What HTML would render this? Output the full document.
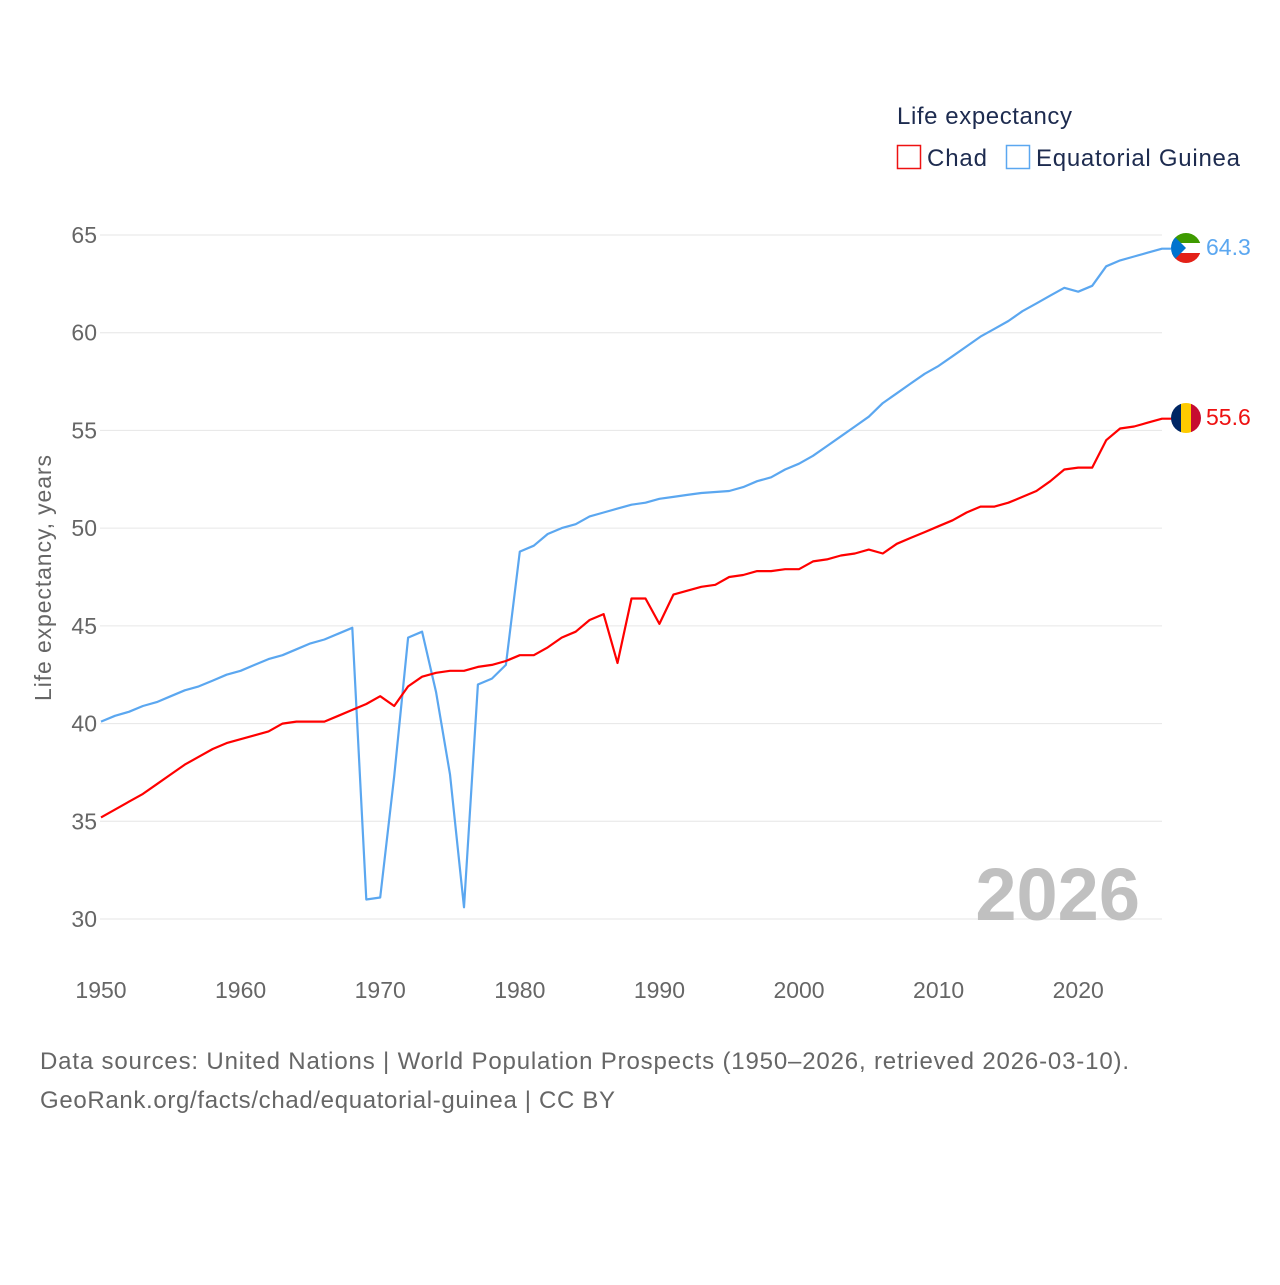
<!DOCTYPE html>
<html><head><meta charset="utf-8"><style>
body{margin:0;background:#fff;font-family:"Liberation Sans",sans-serif;}
svg text{font-family:"Liberation Sans",sans-serif;}
</style></head><body>
<svg id="chart" width="1280" height="1280" viewBox="0 0 1280 1280">
<defs>
<clipPath id="c1"><circle cx="1186" cy="248" r="15"/></clipPath>
<clipPath id="c2"><circle cx="1186" cy="418" r="15"/></clipPath>
</defs>
<g id="grid"></g>
<g id="yt"></g>
<g id="xt"></g>
<text x="51" y="578" font-size="23" fill="#666" text-anchor="middle" textLength="246" transform="rotate(-90 51 578)">Life expectancy, years</text>
<text x="1140" y="920" font-size="74" font-weight="bold" fill="#c0c0c0" text-anchor="end">2026</text>
<g id="lines"></g>
<g clip-path="url(#c1)">
<rect x="1171" y="233" width="30" height="10" fill="#3e9a00"/>
<rect x="1171" y="243" width="30" height="10" fill="#fff"/>
<rect x="1171" y="253" width="30" height="10" fill="#e32118"/>
<polygon points="1171,233 1186,248 1171,263" fill="#0073ce"/>
</g>
<g clip-path="url(#c2)">
<rect x="1171" y="403" width="10" height="30" fill="#002664"/>
<rect x="1181" y="403" width="10" height="30" fill="#fecb00"/>
<rect x="1191" y="403" width="10" height="30" fill="#c60c30"/>
</g>
<text x="1206" y="255" font-size="23" fill="#5ba7f0">64.3</text>
<text x="1206" y="425" font-size="23" fill="#ee1111">55.6</text>
<g>
<text x="897" y="124" font-size="24" fill="#1d2b4f" textLength="175">Life expectancy</text>
<g>
<rect x="897.5" y="145.5" width="23" height="23" fill="none" stroke="#ee1111" stroke-width="1.5"/>
<text x="927" y="166" font-size="24" fill="#1d2b4f" textLength="60">Chad</text></g>
<g>
<rect x="1006.5" y="145.5" width="23" height="23" fill="none" stroke="#5ba7f0" stroke-width="1.5"/>
<text x="1036" y="166" font-size="24" fill="#1d2b4f" textLength="204">Equatorial Guinea</text></g>
</g>
<text x="40" y="1069" font-size="24" fill="#666" textLength="1089">Data sources: United Nations | World Population Prospects (1950–2026, retrieved 2026-03-10).</text>
<text x="40" y="1108" font-size="24" fill="#666" textLength="575">GeoRank.org/facts/chad/equatorial-guinea | CC BY</text>
</svg>
<script>
const startYear = 1950;
const chad = [35.2,35.6,36.0,36.4,36.9,37.4,37.9,38.3,38.7,39.0,39.2,39.4,39.6,40.0,40.1,40.1,40.1,40.4,40.7,41.0,41.4,40.9,41.9,42.4,42.6,42.7,42.7,42.9,43.0,43.2,43.5,43.5,43.9,44.4,44.7,45.3,45.6,43.1,46.4,46.4,45.1,46.6,46.8,47.0,47.1,47.5,47.6,47.8,47.8,47.9,47.9,48.3,48.4,48.6,48.7,48.9,48.7,49.2,49.5,49.8,50.1,50.4,50.8,51.1,51.1,51.3,51.6,51.9,52.4,53.0,53.1,53.1,54.5,55.1,55.2,55.4,55.6];
const eqGuinea = [40.1,40.4,40.6,40.9,41.1,41.4,41.7,41.9,42.2,42.5,42.7,43.0,43.3,43.5,43.8,44.1,44.3,44.6,44.9,31.0,31.1,37.3,44.4,44.7,41.6,37.4,30.6,42.0,42.3,43.0,48.8,49.1,49.7,50.0,50.2,50.6,50.8,51.0,51.2,51.3,51.5,51.6,51.7,51.8,51.85,51.9,52.1,52.4,52.6,53.0,53.3,53.7,54.2,54.7,55.2,55.7,56.4,56.9,57.4,57.9,58.3,58.8,59.3,59.8,60.2,60.6,61.1,61.5,61.9,62.3,62.1,62.4,63.4,63.7,63.9,64.1,64.3];
const yTicks = [30,35,40,45,50,55,60,65];
const xTicks = [1950,1960,1970,1980,1990,2000,2010,2020];
const NS="http://www.w3.org/2000/svg";
const x = yr => 101 + (yr-1950)*(1162-101)/76;
const y = v => 919 - (v-30)*(919-235)/35;
const grid=document.getElementById('grid'), yt=document.getElementById('yt'), xt=document.getElementById('xt'), lines=document.getElementById('lines');
yTicks.forEach(t=>{
  const l=document.createElementNS(NS,'line');
  l.setAttribute('x1',100);l.setAttribute('x2',1162);l.setAttribute('y1',y(t));l.setAttribute('y2',y(t));
  l.setAttribute('stroke','#e6e6e6');l.setAttribute('stroke-width','1');
  
  
  grid.appendChild(l);
  const tx=document.createElementNS(NS,'text');
  tx.setAttribute('x',97);tx.setAttribute('y',y(t)+8);tx.setAttribute('text-anchor','end');
  tx.setAttribute('font-size','23');tx.setAttribute('fill','#666');tx.textContent=t;
  
  
  yt.appendChild(tx);
});
xTicks.forEach(t=>{
  const tx=document.createElementNS(NS,'text');
  tx.setAttribute('x',x(t));tx.setAttribute('y',998);tx.setAttribute('text-anchor','middle');
  tx.setAttribute('font-size','23');tx.setAttribute('fill','#666');tx.textContent=t;
  
  
  xt.appendChild(tx);
});
function drawLine(data,color,name){
  const p=document.createElementNS(NS,'polyline');
  const pts=data.map((v,i)=>x(startYear+i).toFixed(1)+','+y(v).toFixed(1));
  pts.push('1172,'+y(data[data.length-1]).toFixed(1));
  p.setAttribute('points',pts.join(' '));
  p.setAttribute('fill','none');p.setAttribute('stroke',color);p.setAttribute('stroke-width','2.2');
  p.setAttribute('stroke-linejoin','round');
  
  
  lines.appendChild(p);
}
drawLine(eqGuinea,'#5ba7f0','equatorial-guinea-line');
drawLine(chad,'#ff0000','chad-line');
</script>
</body></html>
